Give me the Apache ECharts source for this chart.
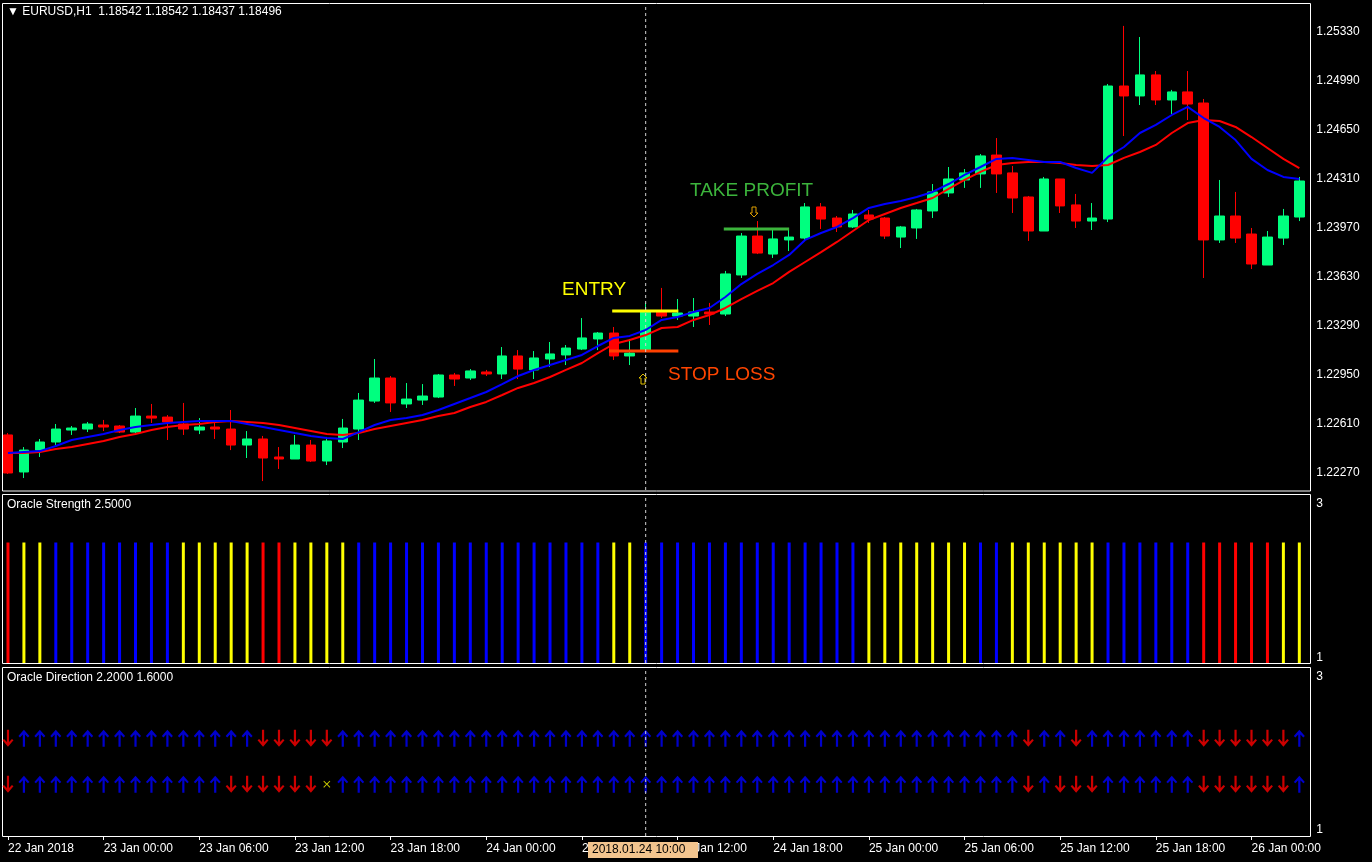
<!DOCTYPE html>
<html><head><meta charset="utf-8">
<script src="https://cdn.jsdelivr.net/npm/echarts@6/dist/echarts.min.js"></script>
<style>html,body{margin:0;padding:0;background:#000}#c{width:1372px;height:862px}</style>
</head><body><div id="c"></div>
<script>
// [open, close, low, high]
const candles = [
[1.22534,1.22270,1.22263,1.22547],[1.22277,1.22429,1.22235,1.22450],[1.22429,1.22485,1.22381,1.22506],[1.22485,1.22575,1.22464,1.22610],
[1.22568,1.22582,1.22534,1.22596],[1.22575,1.22610,1.22554,1.22624],[1.22603,1.22589,1.22561,1.22638],[1.22596,1.22554,1.22547,1.22603],
[1.22554,1.22665,1.22547,1.22721],[1.22665,1.22651,1.22617,1.22749],[1.22658,1.22624,1.22499,1.22672],[1.22610,1.22575,1.22534,1.22756],
[1.22568,1.22589,1.22540,1.22651],[1.22589,1.22575,1.22506,1.22617],[1.22575,1.22464,1.22429,1.22707],[1.22464,1.22506,1.22374,1.22561],
[1.22506,1.22374,1.22214,1.22527],[1.22381,1.22367,1.22298,1.22450],[1.22367,1.22464,1.22367,1.22534],[1.22464,1.22353,1.22346,1.22499],
[1.22353,1.22492,1.22325,1.22520],[1.22485,1.22582,1.22443,1.22645],[1.22575,1.22776,1.22499,1.22825],[1.22769,1.22929,1.22756,1.23061],
[1.22929,1.22756,1.22693,1.22943],[1.22749,1.22783,1.22721,1.22894],[1.22776,1.22804,1.22742,1.22887],[1.22797,1.22950,1.22790,1.22957],
[1.22950,1.22922,1.22874,1.22964],[1.22929,1.22978,1.22915,1.22991],[1.22971,1.22957,1.22943,1.22985],[1.22957,1.23082,1.22922,1.23144],
[1.23082,1.22991,1.22922,1.23123],[1.22985,1.23068,1.22922,1.23116],[1.23061,1.23096,1.23005,1.23179],[1.23089,1.23137,1.23019,1.23158],
[1.23130,1.23207,1.23123,1.23345],[1.23200,1.23241,1.23123,1.23248],[1.23241,1.23082,1.23054,1.23283],[1.23082,1.23102,1.23019,1.23200],
[1.23123,1.23387,1.23109,1.23450],[1.23387,1.23359,1.23345,1.23554],[1.23359,1.23380,1.23332,1.23477],[1.23359,1.23387,1.23283,1.23484],
[1.23387,1.23373,1.23297,1.23450],[1.23373,1.23651,1.23359,1.23672],[1.23644,1.23914,1.23623,1.23935],[1.23914,1.23796,1.23789,1.24018],
[1.23789,1.23894,1.23762,1.23956],[1.23887,1.23907,1.23810,1.23956],[1.23900,1.24116,1.23887,1.24143],[1.24116,1.24032,1.23963,1.24143],
[1.24039,1.23977,1.23942,1.24053],[1.23977,1.24067,1.23970,1.24095],[1.24060,1.24032,1.24005,1.24095],[1.24039,1.23914,1.23894,1.24046],
[1.23907,1.23977,1.23831,1.23984],[1.23970,1.24095,1.23894,1.24102],[1.24088,1.24220,1.24039,1.24275],[1.24213,1.24310,1.24185,1.24393],
[1.24303,1.24352,1.24248,1.24379],[1.24345,1.24470,1.24248,1.24483],[1.24476,1.24345,1.24213,1.24594],[1.24352,1.24178,1.24074,1.24400],
[1.24185,1.23949,1.23880,1.24192],[1.23949,1.24310,1.23949,1.24324],[1.24310,1.24123,1.24074,1.24310],[1.24130,1.24018,1.23970,1.24206],
[1.24018,1.24039,1.23956,1.24143],[1.24032,1.24955,1.24011,1.24969],[1.24955,1.24886,1.24608,1.25372],[1.24886,1.25032,1.24823,1.25295],
[1.25032,1.24858,1.24823,1.25059],[1.24858,1.24914,1.24761,1.24928],[1.24914,1.24830,1.24719,1.25059],[1.24837,1.23887,1.23623,1.24865],
[1.23887,1.24053,1.23866,1.24303],[1.24053,1.23900,1.23866,1.24220],[1.23928,1.23720,1.23685,1.23970],[1.23713,1.23907,1.23713,1.23949],
[1.23900,1.24053,1.23852,1.24102],[1.24046,1.24296,1.24018,1.24324]
];
const maFast = [1.22409,1.22416,1.22422,1.22457,1.22499,1.22520,1.22540,1.22568,1.22589,1.22603,1.22617,1.22624,1.22631,1.22631,1.22631,1.22610,1.22589,1.22568,1.22547,1.22527,1.22513,1.22506,1.22554,1.22603,1.22638,1.22651,1.22672,1.22707,1.22749,1.22790,1.22832,1.22887,1.22943,1.22985,1.23019,1.23054,1.23089,1.23151,1.23207,1.23221,1.23262,1.23332,1.23352,1.23387,1.23415,1.23491,1.23581,1.23651,1.23713,1.23783,1.23887,1.23935,1.23977,1.24039,1.24109,1.24136,1.24157,1.24185,1.24220,1.24275,1.24338,1.24393,1.24449,1.24456,1.24442,1.24428,1.24428,1.24386,1.24352,1.24463,1.24532,1.24629,1.24685,1.24754,1.24810,1.24733,1.24671,1.24580,1.24449,1.24372,1.24324,1.24310];
const maSlow = [1.22409,1.22409,1.22416,1.22436,1.22450,1.22471,1.22492,1.22520,1.22540,1.22568,1.22589,1.22603,1.22610,1.22624,1.22631,1.22624,1.22617,1.22603,1.22582,1.22561,1.22540,1.22534,1.22547,1.22575,1.22596,1.22617,1.22638,1.22665,1.22686,1.22728,1.22763,1.22811,1.22860,1.22894,1.22936,1.22985,1.23033,1.23102,1.23165,1.23193,1.23227,1.23276,1.23283,1.23332,1.23366,1.23415,1.23477,1.23533,1.23588,1.23665,1.23734,1.23803,1.23873,1.23949,1.24025,1.24067,1.24109,1.24143,1.24178,1.24241,1.24303,1.24359,1.24407,1.24421,1.24428,1.24428,1.24421,1.24407,1.24400,1.24407,1.24456,1.24497,1.24546,1.24629,1.24698,1.24719,1.24712,1.24671,1.24601,1.24525,1.24449,1.24386];
const strengthColors = "RYYBBBBBBBBYYYYYRRYYYYBBBBBBBBBBBBBBBBYYBBBBBBBBBBBBBBYYYYYYYBBYYYYYYBBBBBBRRRRRYY";
const strengthValue = 2.5;
const dirUpper = "DUUUUUUUUUUUUUUUDDDDDUUUUUUUUUUUUUUUUUUUUUUUUUUUUUUUUUUUUUUUUUUUDUUDUUUUUUUDDDDDDU";
const dirLower = "DUUUUUUUUUUUUUDDDDDDXUUUUUUUUUUUUUUUUUUUUUUUUUUUUUUUUUUUUUUUUUUUDUDDDUUUUUUDDDDDDU";
const dirLevels = [2.2, 1.6];
const priceTicks = [1.22270,1.22610,1.22950,1.23290,1.23630,1.23970,1.24310,1.24650,1.24990,1.25330];
const timeLabels = ["22 Jan 2018","23 Jan 00:00","23 Jan 06:00","23 Jan 12:00","23 Jan 18:00","24 Jan 00:00","24 Jan 06:00","24 Jan 12:00","24 Jan 18:00","25 Jan 00:00","25 Jan 06:00","25 Jan 12:00","25 Jan 18:00","26 Jan 00:00"];
const cursorIndex = 40;
const cursorLabel = "2018.01.24 10:00";
const entryPrice = 1.23394, stopPrice = 1.23116, takePrice = 1.23963;
const entrySpan = [37.9, 42.05], stopSpan = [37.7, 42.05], takeSpan = [44.9, 49.0];

const cats = candles.map((_, i) => String(i));
const F = 'Liberation Sans, DejaVu Sans, sans-serif';
const colMap = {R:'#ff0000', Y:'#ffff00', B:'#0000ff'};
const upPath = 'path://M5,0 L10,6 L8.6,7.2 L6,4.4 L6,16 L4,16 L4,4.4 L1.4,7.2 L0,6 Z';
const xPath = 'path://M0,1 L1,0 L5,4 L9,0 L10,1 L6,5 L10,9 L9,10 L5,6 L1,10 L0,9 L4,5 Z';
const W = 1312, L = -4.7;
const yr = [[1.22152, 1.25524], [0.935, 3.117], [0.922, 3.118]];
function dirData(str, level) {
  return str.split('').map((c, i) => ({
    value: [i, level],
    symbol: c === 'X' ? xPath : upPath,
    symbolRotate: c === 'D' ? 180 : 0,
    symbolSize: c === 'X' ? [7, 7] : [11, 17],
    itemStyle: {color: c === 'U' ? '#0000ff' : c === 'D' ? '#ff0000' : '#ffff00'}
  }));
}
function xa(gi, showLabel) {
  return {
    type: 'category', gridIndex: gi, data: cats, boundaryGap: true,
    axisLine: {show: false},
    axisTick: {show: showLabel, interval: 5, alignWithLabel: true, length: 4, lineStyle: {color: '#fff'}},
    axisLabel: {show: showLabel, interval: 5, align: 'left', color: '#fff', fontFamily: F, fontSize: 12, margin: 7,
      formatter: (v) => timeLabels[Number(v) / 6] || ''},
    splitLine: {show: false}
  };
}
function xv(gi) {
  return {type: 'value', gridIndex: gi, min: -0.5, max: candles.length - 0.5, show: false};
}
function ya(gi, ticks, fmt) {
  return {
    type: 'value', gridIndex: gi, position: 'right', offset: 3, min: yr[gi][0], max: yr[gi][1],
    axisLine: {show: false},
    axisTick: {show: false},
    axisLabel: {show: true, customValues: ticks, color: '#fff', fontFamily: F, fontSize: 12, margin: 6, formatter: fmt},
    splitLine: {show: false}
  };
}
function seg(xi, yi, pts, color, width, dash) {
  return {type: 'line', xAxisIndex: xi, yAxisIndex: yi, data: pts, symbol: 'none', silent: true,
    lineStyle: {color, width, type: dash ? [3, 3] : 'solid'}, z: 5};
}
const chart = echarts.init(document.getElementById('c'));
chart.setOption({
  backgroundColor: '#000',
  animation: false,
  grid: [
    {left: L, width: W, top: 4, height: 486},
    {left: L, width: W, top: 495, height: 168},
    {left: L, width: W, top: 668, height: 168}
  ],
  xAxis: [xa(0, false), xa(1, false), xa(2, true), xv(0), xv(1), xv(2)],
  yAxis: [
    ya(0, priceTicks, (v) => Number(v).toFixed(5)),
    ya(1, [1, 3], (v) => String(Math.round(v))),
    ya(2, [1, 3], (v) => String(Math.round(v)))
  ],
  series: [
    {type: 'candlestick', xAxisIndex: 0, yAxisIndex: 0, data: candles, barWidth: 10,
      itemStyle: {color: '#00ff7f', color0: '#ff0000', borderColor: '#00ff7f', borderColor0: '#ff0000', borderWidth: 1}},
    {type: 'line', xAxisIndex: 0, yAxisIndex: 0, data: maSlow, symbol: 'none', lineStyle: {color: '#ff0000', width: 2}},
    {type: 'line', xAxisIndex: 0, yAxisIndex: 0, data: maFast, symbol: 'none', lineStyle: {color: '#0000ff', width: 2}},
    seg(3, 0, [[entrySpan[0], entryPrice], [entrySpan[1], entryPrice]], '#ffff00', 3),
    seg(3, 0, [[stopSpan[0], stopPrice], [stopSpan[1], stopPrice]], '#ff4000', 3),
    seg(3, 0, [[takeSpan[0], takePrice], [takeSpan[1], takePrice]], '#3cb43c', 3),
    seg(3, 0, [[cursorIndex, yr[0][0]], [cursorIndex, yr[0][1]]], '#d0d0d0', 1, true),
    {type: 'bar', xAxisIndex: 1, yAxisIndex: 1, barWidth: 3,
      data: strengthColors.split('').map((c) => ({value: strengthValue, itemStyle: {color: colMap[c]}}))},
    seg(4, 1, [[cursorIndex, yr[1][0]], [cursorIndex, yr[1][1]]], '#d0d0d0', 1, true),
    {type: 'scatter', xAxisIndex: 2, yAxisIndex: 2, data: dirData(dirUpper, dirLevels[0])},
    {type: 'scatter', xAxisIndex: 2, yAxisIndex: 2, data: dirData(dirLower, dirLevels[1])},
    seg(5, 2, [[cursorIndex, yr[2][0]], [cursorIndex, yr[2][1]]], '#d0d0d0', 1, true)
  ],
  graphic: [
    {type: 'rect', shape: {x: 2.5, y: 3.5, width: 1308, height: 487.5}, style: {fill: 'none', stroke: '#fff', lineWidth: 1}, silent: true},
    {type: 'rect', shape: {x: 2.5, y: 494.5, width: 1308, height: 169}, style: {fill: 'none', stroke: '#fff', lineWidth: 1}, silent: true},
    {type: 'rect', shape: {x: 2.5, y: 667.5, width: 1308, height: 169}, style: {fill: 'none', stroke: '#fff', lineWidth: 1}, silent: true},
    {type: 'text', x: 7, y: 6, style: {text: '▼ EURUSD,H1  1.18542 1.18542 1.18437 1.18496', fill: '#fff', font: '12px ' + F}},
    {type: 'text', x: 7, y: 499, style: {text: 'Oracle Strength 2.5000', fill: '#fff', font: '12px ' + F}},
    {type: 'text', x: 7, y: 672, style: {text: 'Oracle Direction 2.2000 1.6000', fill: '#fff', font: '12px ' + F}},
    {type: 'text', x: 562, y: 280, style: {text: 'ENTRY', fill: '#ffff00', font: '19px ' + F}},
    {type: 'text', x: 668, y: 365, style: {text: 'STOP LOSS', fill: '#ff4500', font: '19px ' + F}},
    {type: 'text', x: 690, y: 181, style: {text: 'TAKE PROFIT', fill: '#3cb43c', font: '19px ' + F}},
    {type: 'rect', shape: {x: 588, y: 842, width: 110, height: 16}, style: {fill: '#f2c48e'}, z: 10},
    {type: 'text', x: 592, y: 844, style: {text: cursorLabel, fill: '#000', font: '12px ' + F}, z: 11},
    {type: 'polygon', shape: {points: [[643,374],[647,378],[645,378],[645,384],[641,384],[641,378],[639,378]]}, style: {fill: 'none', stroke: '#e0c000', lineWidth: 1}},
    {type: 'polygon', shape: {points: [[752,207],[756,207],[756,213],[758,213],[754,217],[750,213],[752,213]]}, style: {fill: 'none', stroke: '#e0a000', lineWidth: 1}}
  ]
});
</script></body></html>
